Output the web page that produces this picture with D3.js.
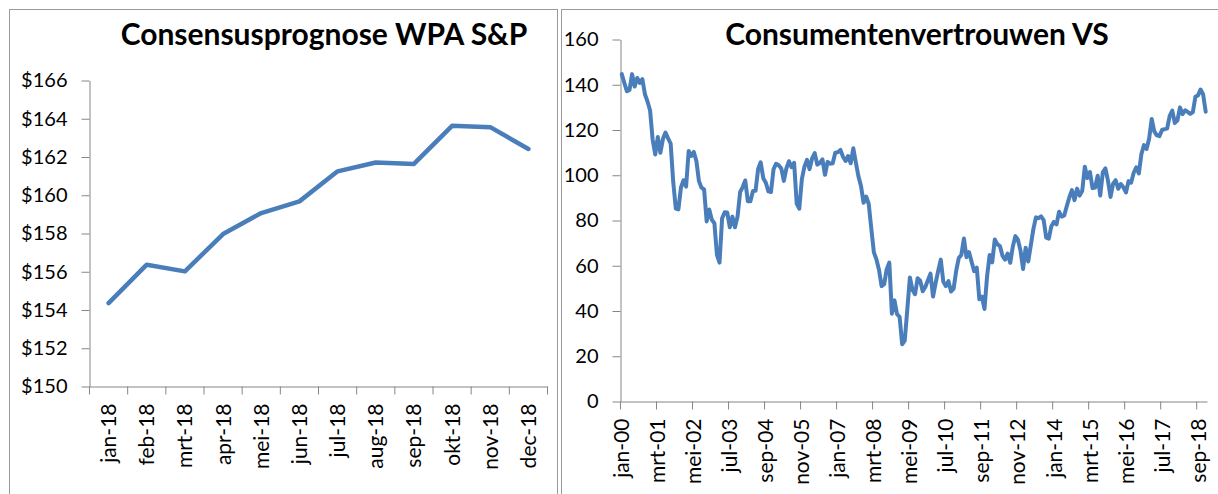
<!DOCTYPE html>
<html>
<head>
<meta charset="utf-8">
<script src="https://cdn.jsdelivr.net/npm/d3@7"></script>
<style>
  body { margin: 0; background: #fff; }
  svg text { font-family: Lato, "Open Sans", sans-serif; fill: #000; }
  .tick text { font-size: 20px; }
  .x-axis .tick text { font-size: 21px; }
  .title { font-size: 30px; font-weight: bold; }
</style>
</head>
<body>
<svg id="chart" width="1218" height="494"></svg>
<script>
// Consensusprognose WPA S&P (2018)
const epsMonths = ["jan-18", "feb-18", "mrt-18", "apr-18", "mei-18", "jun-18",
  "jul-18", "aug-18", "sep-18", "okt-18", "nov-18", "dec-18"];
const epsValues = [154.36, 156.37, 156.02, 157.97, 159.07, 159.68,
  161.25, 161.71, 161.64, 163.63, 163.56, 162.42];
const epsTicks = [150, 152, 154, 156, 158, 160, 162, 164, 166];

// Consumentenvertrouwen VS, maandelijks jan-00 t/m dec-18
const dutchMonths = ["jan", "feb", "mrt", "apr", "mei", "jun", "jul", "aug", "sep", "okt", "nov", "dec"];
const confidenceYears = d3.range(0, 19).map(y => String(y).padStart(2, "0"));
const confidenceValues = [
  144.7, 140.8, 137.1, 137.7, 144.7, 139.2, 143.0, 140.8, 142.5, 135.8, 132.6, 128.6,
  115.7, 109.2, 116.9, 109.9, 116.1, 118.9, 116.3, 114.0, 97.0, 85.3, 84.9, 94.6,
  97.8, 95.0, 110.7, 108.5, 110.3, 106.3, 97.4, 94.5, 93.7, 79.6, 84.9, 80.3,
  78.8, 64.8, 61.4, 81.0, 83.6, 83.5, 77.0, 81.7, 77.0, 81.7, 92.5, 94.8,
  97.7, 88.5, 88.5, 93.0, 93.1, 102.8, 105.7, 98.7, 96.7, 92.9, 92.6, 102.7,
  105.1, 104.4, 103.0, 97.5, 103.1, 106.2, 103.6, 105.5, 87.5, 85.2, 98.3, 103.8,
  106.8, 102.7, 107.5, 109.8, 104.7, 105.4, 107.0, 100.2, 105.9, 105.1, 105.3, 110.0,
  110.2, 111.2, 108.2, 106.3, 108.5, 105.3, 111.9, 105.6, 99.5, 95.2, 87.8, 90.6,
  87.3, 76.4, 65.9, 62.8, 58.1, 51.0, 51.9, 58.5, 61.4, 38.8, 44.7, 38.6,
  37.4, 25.3, 26.9, 40.8, 54.8, 49.3, 47.4, 54.5, 53.4, 48.7, 50.6, 53.6,
  56.5, 46.4, 52.3, 57.7, 62.7, 52.9, 51.0, 53.2, 48.6, 49.9, 57.8, 63.4,
  64.8, 72.0, 63.8, 66.0, 61.7, 57.6, 59.2, 45.2, 46.4, 40.9, 55.2, 64.8,
  61.5, 71.6, 69.5, 68.7, 64.4, 62.7, 65.4, 61.3, 68.4, 73.1, 71.5, 66.7,
  58.6, 68.0, 61.9, 69.0, 76.2, 81.4, 81.0, 81.8, 80.2, 72.4, 72.0, 77.5,
  79.4, 78.3, 83.9, 81.7, 82.2, 86.4, 90.3, 93.4, 89.0, 94.1, 91.0, 93.1,
  103.8, 98.8, 101.4, 94.3, 94.6, 99.8, 91.0, 101.3, 103.0, 97.6, 90.4, 96.3,
  97.8, 94.0, 96.1, 94.7, 92.4, 97.4, 96.7, 101.1, 103.5, 100.8, 109.4, 113.3,
  111.6, 116.1, 124.9, 119.4, 117.6, 117.3, 120.0, 120.4, 120.6, 126.2, 128.6, 123.1,
  124.3, 130.0, 127.0, 128.7, 128.0, 127.1, 127.9, 134.7, 135.3, 137.9, 135.7, 128.1
];
const confidenceTickLabels = ["jan-00", "mrt-01", "mei-02", "jul-03", "sep-04", "nov-05",
  "jan-07", "mrt-08", "mei-09", "jul-10", "sep-11", "nov-12", "jan-14", "mrt-15",
  "mei-16", "jul-17", "sep-18"];
const confidenceTicks = [0, 20, 40, 60, 80, 100, 120, 140, 160];

const lineColor = "#4a7ebb";
const axisColor = "#868686";
const frameColor = "#9a9a9a";

const svg = d3.select("#chart");
svg.append("rect").attr("width", 1218).attr("height", 494).attr("fill", "#fff");

function drawChart(opts) {
  const { frame, plot, title, titleX, categories, values, yTicks, yFormat, labels, tickEvery, lineWidth } = opts;

  svg.append("rect")
    .attr("x", frame.x).attr("y", frame.y)
    .attr("width", frame.w).attr("height", frame.h)
    .attr("fill", "none")
    .attr("stroke", frameColor);

  svg.append("text")
    .attr("class", "title")
    .attr("x", titleX)
    .attr("y", 45)
    .attr("text-anchor", "middle")
    .text(title);

  const x = d3.scaleBand().domain(categories).range([plot.left, plot.right]);
  const y = d3.scaleLinear()
    .domain([yTicks[0], yTicks[yTicks.length - 1]])
    .range([plot.bottom, plot.top]);

  // y-as
  const yAxis = svg.append("g")
    .attr("transform", `translate(${plot.left},0)`)
    .call(d3.axisLeft(y).tickValues(yTicks).tickFormat(yFormat).tickSize(8).tickSizeOuter(0).tickPadding(14));
  yAxis.attr("font-size", null).attr("font-family", null);
  yAxis.selectAll("path, line").attr("stroke", axisColor);

  // x-as: labels in het midden van de categorie
  const xAxis = svg.append("g")
    .attr("class", "x-axis")
    .attr("transform", `translate(0,${plot.bottom})`)
    .call(d3.axisBottom(x).tickValues(labels).tickSize(0).tickSizeOuter(0));
  xAxis.attr("font-size", null).attr("font-family", null);
  xAxis.select(".domain").attr("stroke", axisColor);
  xAxis.selectAll(".tick text")
    .attr("transform", "rotate(-90)")
    .attr("text-anchor", "end")
    .attr("x", -17)
    .attr("y", 0)
    .attr("dy", "0.36em");

  // streepjes tussen de categorieen
  const tickIdx = d3.range(0, categories.length + 1, tickEvery);
  svg.append("g").selectAll("line")
    .data(tickIdx)
    .enter().append("line")
    .attr("x1", i => i < categories.length ? x(categories[i]) : x.range()[1])
    .attr("x2", i => i < categories.length ? x(categories[i]) : x.range()[1])
    .attr("y1", plot.bottom)
    .attr("y2", plot.bottom + 8)
    .attr("stroke", axisColor);

  const line = d3.line()
    .x((d, i) => x(categories[i]) + x.bandwidth() / 2)
    .y(d => y(d));

  svg.append("path")
    .datum(values)
    .attr("d", line)
    .attr("fill", "none")
    .attr("stroke", lineColor)
    .attr("stroke-width", lineWidth)
    .attr("stroke-linejoin", "round")
    .attr("stroke-linecap", "round");
}

drawChart({
  frame: { x: 9.5, y: 9.5, w: 548, h: 500 },
  plot: { left: 89.5, right: 547.5, top: 80.5, bottom: 386.5 },
  title: "Consensusprognose WPA S&P",
  titleX: 324,
  categories: epsMonths,
  values: epsValues,
  yTicks: epsTicks,
  yFormat: d => "$" + d,
  labels: epsMonths,
  tickEvery: 1,
  lineWidth: 4.5
});

const confidenceMonths = [];
confidenceYears.forEach(yr => dutchMonths.forEach(m => confidenceMonths.push(m + "-" + yr)));

drawChart({
  frame: { x: 561.5, y: 9.5, w: 670, h: 500 },
  plot: { left: 620.5, right: 1207, top: 39.5, bottom: 401.5 },
  title: "Consumentenvertrouwen VS",
  titleX: 917,
  categories: confidenceMonths,
  values: confidenceValues,
  yTicks: confidenceTicks,
  yFormat: d => d,
  labels: confidenceTickLabels,
  tickEvery: 14,
  lineWidth: 4
});
</script>
</body>
</html>
